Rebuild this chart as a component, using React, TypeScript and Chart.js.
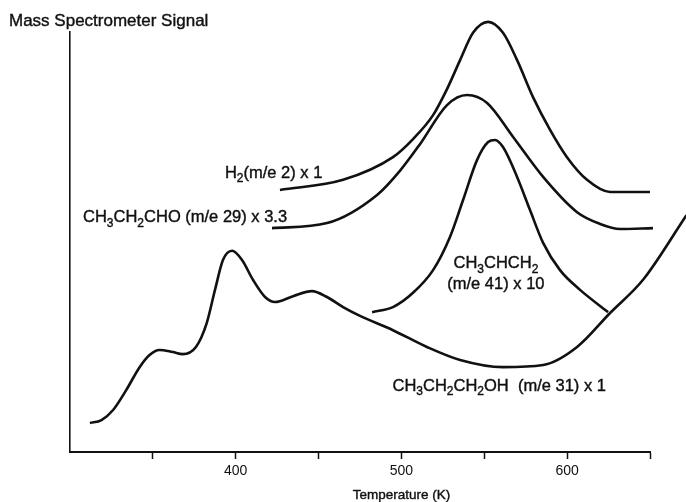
import { useEffect, useRef } from 'react';
import { Chart, registerables } from 'chart.js';

Chart.register(...registerables);

// Temperature (K) and signal (arbitrary units, 0–100 full scale)
const propanolT = [312, 319, 326, 334, 342, 348, 354, 362, 368, 376, 382.5, 387.5, 392.3, 397.8, 403.8, 410.4, 417.7, 423.7, 434.6, 446, 455.1, 464.8, 475, 494.9, 515.4, 535.4, 561.3, 585.5, 606, 625.9, 645.8, 672];
const propanolV = [6.9, 7.6, 10.0, 14.8, 20.2, 23.1, 24.3, 23.8, 23.3, 25.0, 30.7, 38.6, 45.7, 47.9, 45.7, 41.0, 36.9, 35.7, 37.1, 38.3, 36.9, 34.5, 32.4, 29.0, 25.0, 21.9, 20.2, 20.7, 25.0, 33.1, 41.0, 56.4];

const h2T = [426.7, 464.8, 494.9, 507.0, 519.1, 527.5, 535.4, 543.2, 552.3, 561.3, 569.8, 579.4, 589.7, 599.9, 612.0, 625.9, 650.0];
const h2V = [62.4, 64.8, 70.2, 74.5, 80.2, 86.4, 93.3, 99.8, 102.4, 99.8, 93.3, 84.5, 76.7, 70.2, 64.8, 61.9, 61.9];

const propanalT = [421.9, 455.1, 485.3, 499.2, 511.2, 527.5, 539.6, 551.7, 567.4, 585.5, 606.0, 619.9, 631.9, 651.8];
const propanalV = [53.3, 54.5, 61.2, 67.0, 73.3, 82.6, 85.0, 83.1, 75.0, 65.5, 57.1, 54.3, 53.1, 53.3];

const propeneT = [482.3, 494.9, 507.0, 519.1, 529.3, 537.2, 545.6, 552.3, 556.5, 561.3, 569.8, 577.6, 585.5, 595.7, 607.8, 624.7];
const propeneV = [33.3, 34.5, 37.9, 43.3, 51.2, 60.0, 69.5, 73.8, 74.3, 72.6, 65.5, 57.6, 49.8, 43.3, 38.6, 33.3];

const xMin = 300;
const xMax = 650;
const xStep = 50;
const xTickLabels = [400, 500, 600];

const yTitle = 'Mass Spectrometer Signal';
const xTitle = 'Temperature (K)';
const xTitleAt = 500; // temperature under which the axis title is centred

type Seg = { t: string; sub?: boolean };
type Label = { segs: Seg[]; T: number; v: number; align: 'left' | 'center' | 'right' };

const curveLabels: Label[] = [
  { segs: [{ t: 'H' }, { t: '2', sub: true }, { t: '(m/e 2) x 1' }], T: 393.5, v: 66.7, align: 'left' },
  { segs: [{ t: 'CH' }, { t: '3', sub: true }, { t: 'CH' }, { t: '2', sub: true }, { t: 'CHO (m/e 29) x 3.3' }], T: 431, v: 56.2, align: 'right' },
  { segs: [{ t: 'CH' }, { t: '3', sub: true }, { t: 'CHCH' }, { t: '2', sub: true }], T: 557, v: 45.2, align: 'center' },
  { segs: [{ t: '(m/e 41) x 10' }], T: 557, v: 40.2, align: 'center' },
  { segs: [{ t: 'CH' }, { t: '3', sub: true }, { t: 'CH' }, { t: '2', sub: true }, { t: 'CH' }, { t: '2', sub: true }, { t: 'OH  (m/e 31) x 1' }], T: 559, v: 16.0, align: 'center' },
];

const FAMILY = '"Liberation Sans", Arial, Helvetica, sans-serif';
const INK = '#111';

function pts(xs: number[], ys: number[]) {
  return xs.map((x, i) => ({ x, y: ys[i] }));
}

function drawRich(ctx: CanvasRenderingContext2D, segs: Seg[], x: number, y: number, align: string, size: number) {
  const base = `${size}px ${FAMILY}`;
  const subF = `${Math.round(size * 0.72)}px ${FAMILY}`;
  let w = 0;
  for (const s of segs) {
    ctx.font = s.sub ? subF : base;
    w += ctx.measureText(s.t).width;
  }
  let cx = align === 'center' ? x - w / 2 : align === 'right' ? x - w : x;
  const baseY = y + size * 0.36;
  ctx.textAlign = 'left';
  ctx.textBaseline = 'alphabetic';
  ctx.fillStyle = INK;
  ctx.strokeStyle = INK;
  ctx.lineWidth = 0.4;
  for (const s of segs) {
    ctx.font = s.sub ? subF : base;
    const yy = s.sub ? baseY + size * 0.28 : baseY;
    ctx.fillText(s.t, cx, yy);
    ctx.strokeText(s.t, cx, yy);
    cx += ctx.measureText(s.t).width;
  }
}

const labelPlugin = {
  id: 'curveLabels',
  afterDraw(chart: any) {
    const { ctx, scales } = chart;
    ctx.save();
    for (const l of curveLabels) {
      drawRich(ctx, l.segs, scales.x.getPixelForValue(l.T), scales.y.getPixelForValue(l.v), l.align, 16.5);
    }
    // y-axis title (horizontal, above the axis)
    drawRich(ctx, [{ t: yTitle }], 9, 20, 'left', 17);
    // x-axis title
    drawRich(ctx, [{ t: xTitle }], scales.x.getPixelForValue(xTitleAt), 494, 'center', 13.5);
    ctx.restore();
  },
};

function lineDs(data: { x: number; y: number }[]) {
  return {
    data,
    borderColor: INK,
    borderWidth: 2.6,
    pointRadius: 0,
    fill: false,
    cubicInterpolationMode: 'monotone' as const,
    clip: false as const,
  };
}

export default function App() {
  const ref = useRef<HTMLCanvasElement>(null);
  useEffect(() => {
    if (!ref.current) return;
    const chart = new Chart(ref.current, {
      type: 'line',
      data: {
        datasets: [
          lineDs(pts(propanolT, propanolV)),
          lineDs(pts(h2T, h2V)),
          lineDs(pts(propanalT, propanalV)),
          lineDs(pts(propeneT, propeneV)),
        ],
      },
      options: {
        animation: false,
        responsive: true,
        maintainAspectRatio: false,
        devicePixelRatio: 1,
        layout: { padding: { left: 70, top: 32, right: 36, bottom: 0 } },
        plugins: { legend: { display: false }, tooltip: { enabled: false }, title: { display: false } },
        scales: {
          x: {
            type: 'linear',
            afterDataLimits: (s: any) => {
              s.min = xMin;
              s.max = xMax;
            },
            afterFit: (s: any) => {
              s.height = 50;
              s.paddingLeft = 0;
              s.paddingRight = 0;
            },
            ticks: {
              stepSize: xStep,
              autoSkip: false,
              maxRotation: 0,
              padding: 4,
              color: INK,
              font: { size: 14, family: FAMILY },
              callback: (v: any) => (xTickLabels.includes(Number(v)) ? String(v) : ''),
            },
            grid: {
              display: true,
              drawOnChartArea: false,
              drawTicks: true,
              tickLength: 7,
              tickWidth: 1.5,
              tickColor: (c: any) => (c.tick && c.tick.value === xMin ? 'rgba(0,0,0,0)' : INK),
            },
            border: { display: true, color: INK, width: 2 },
            title: { display: false },
          },
          y: {
            min: 0,
            max: 100,
            afterFit: (s: any) => {
              s.width = 0;
              s.paddingTop = 0;
              s.paddingBottom = 0;
            },
            ticks: { display: false },
            grid: { display: false },
            border: { display: true, color: INK, width: 1.6 },
          },
        },
      },
      plugins: [labelPlugin],
    });
    return () => chart.destroy();
  }, []);
  return (
    <div style={{ position: 'fixed', left: 0, top: 0, width: 686, height: 502, background: '#fff' }}>
      <canvas ref={ref} />
    </div>
  );
}
